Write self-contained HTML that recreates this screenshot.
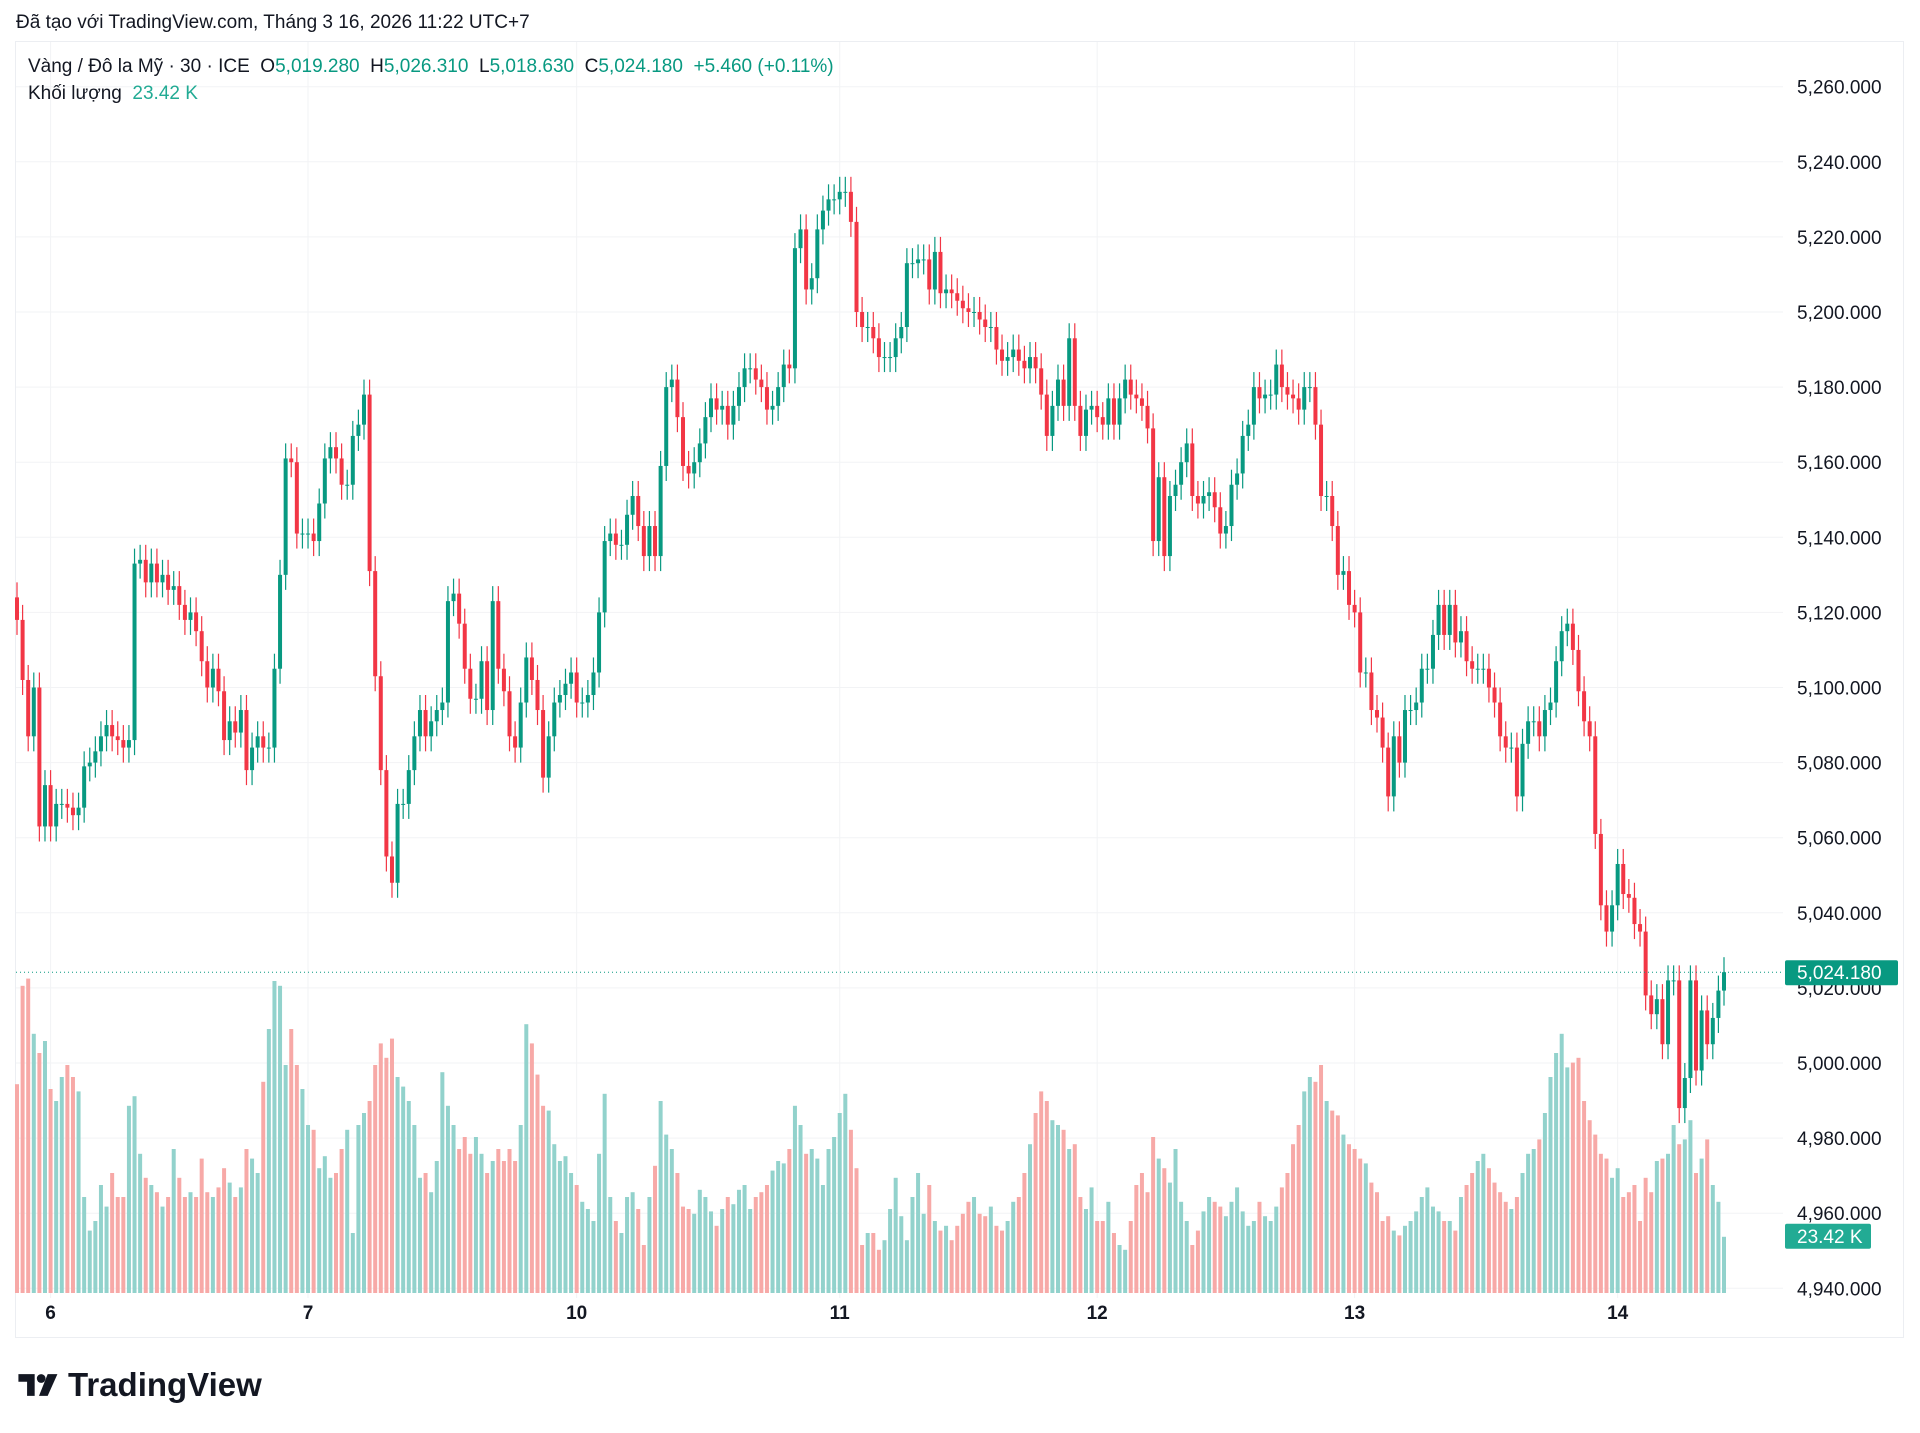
<!DOCTYPE html>
<html><head><meta charset="utf-8">
<style>
html,body{margin:0;padding:0;background:#fff;}
body{width:1920px;height:1433px;position:relative;overflow:hidden;font-family:"Liberation Sans","Noto Sans CJK SC",sans-serif;color:#131722;}
#hdr{position:absolute;left:16px;top:12px;font-size:19px;}
#frame{position:absolute;left:15px;top:41px;width:1889px;height:1297px;border:1px solid #eceef2;box-sizing:border-box;}
#legend{position:absolute;left:28px;top:53px;font-size:19px;line-height:27px;}
.g{color:#089981}
.tv{color:#22ab94}
#logo{position:absolute;left:18px;top:1366px;display:flex;align-items:center;font-weight:bold;font-size:33px;color:#131722;}
</style></head><body>
<div id="hdr">Đã tạo với TradingView.com, Tháng 3 16, 2026 11:22 UTC+7</div>
<div id="frame"></div>
<svg id="chart" width="1920" height="1433" style="position:absolute;left:0;top:0"></svg>
<div id="legend">
<div>Vàng / Đô la Mỹ · 30 · ICE&nbsp; O<span class="g">5,019.280</span>&nbsp; H<span class="g">5,026.310</span>&nbsp; L<span class="g">5,018.630</span>&nbsp; C<span class="g">5,024.180</span>&nbsp; <span class="g">+5.460 (+0.11%)</span></div>
<div>Khối lượng&nbsp; <span class="tv">23.42 K</span></div>
</div>
<div id="logo">
<svg width="42" height="26" viewBox="0 0 38 24" style="margin-right:8px"><path d="M0 2h15v20H8V9H0z" fill="#131722"/><circle cx="21" cy="6" r="4" fill="#131722"/><path d="M27 2h9l-9 20h-8z" fill="#131722"/></svg>
<span>TradingView</span></div>
<script>
const closes=[5118,5102,5087,5100,5063,5074,5063,5069,5069,5068,
5066,5068,5079,5080,5083,5087,5090,5087,5086,5084,
5086,5133,5134,5128,5133,5128,5130,5126,5127,5122,
5118,5120,5115,5107,5100,5105,5099,5086,5091,5088,
5094,5078,5084,5087,5084,5084,5105,5130,5161,5160,
5141,5141,5141,5139,5149,5161,5164,5161,5154,5154,
5167,5170,5178,5131,5103,5078,5055,5048,5069,5069,
5078,5087,5094,5087,5091,5094,5096,5123,5125,5117,
5105,5097,5097,5107,5094,5123,5105,5099,5087,5084,
5096,5108,5102,5094,5076,5087,5096,5098,5101,5104,
5096,5096,5098,5104,5120,5139,5141,5138,5138,5146,
5151,5143,5135,5143,5135,5159,5180,5182,5172,5159,
5157,5160,5165,5172,5177,5174,5175,5170,5175,5180,
5185,5185,5182,5180,5174,5175,5180,5186,5185,5217,
5222,5206,5209,5222,5227,5230,5230,5232,5232,5224,
5200,5196,5196,5193,5188,5188,5188,5193,5196,5213,
5213,5214,5214,5206,5216,5205,5206,5205,5203,5201,
5200,5200,5198,5196,5196,5190,5187,5188,5190,5187,
5185,5188,5185,5178,5167,5175,5182,5175,5193,5175,
5167,5174,5175,5172,5170,5177,5170,5177,5182,5178,
5177,5175,5169,5139,5156,5135,5151,5154,5160,5165,
5151,5149,5151,5152,5148,5141,5143,5154,5157,5167,
5170,5180,5177,5178,5178,5186,5180,5178,5177,5174,
5180,5180,5170,5151,5151,5143,5130,5131,5122,5120,
5104,5104,5094,5092,5084,5071,5087,5080,5094,5094,
5096,5105,5105,5114,5122,5114,5122,5112,5115,5107,
5105,5105,5105,5100,5096,5087,5084,5084,5071,5085,
5091,5091,5087,5094,5096,5107,5115,5117,5110,5099,
5091,5087,5061,5042,5035,5042,5053,5045,5044,5037,
5035,5018,5013,5017,5005,5022,5022,4988,4996,5022,
4998,5014,5005,5012,5019.28,5024.18];
const firstOpen=5124;
const volumes=[87,128,131,108,100,105,85,80,90,95,
90,84,40,26,30,45,36,50,40,40,
78,82,58,48,45,42,36,40,60,48,
40,42,40,56,42,40,44,52,46,40,
44,60,56,50,88,110,130,128,95,110,
95,85,70,68,52,57,48,50,60,68,
25,70,75,80,95,104,98,106,90,86,
80,70,48,50,42,55,92,78,70,60,
65,58,65,58,50,55,60,55,60,55,
70,112,104,91,78,76,62,55,57,50,
45,38,35,30,58,83,40,30,25,40,
42,35,20,40,53,80,66,60,50,36,
35,33,43,40,34,28,35,40,37,43,
45,35,40,42,45,51,55,54,60,78,
70,58,60,56,45,60,65,75,83,68,
52,20,25,25,18,22,35,48,32,22,
40,50,33,45,30,26,28,22,28,33,
38,40,33,32,36,28,26,30,38,40,
50,62,75,84,80,72,70,68,60,62,
40,35,44,30,30,38,25,20,18,30,
45,50,42,65,56,52,46,60,38,30,
20,26,34,40,38,36,32,38,44,34,
28,30,38,32,30,36,44,50,62,70,
84,90,88,95,80,76,74,66,62,60,
56,54,46,42,30,32,26,24,28,30,
34,40,44,36,34,30,30,26,40,45,
50,55,58,52,46,42,38,35,40,50,
58,60,64,75,90,100,108,94,96,98,
80,72,66,58,56,48,52,40,42,45,
30,48,42,55,56,58,70,62,64,72,
50,56,64,45,38,23.42];
const priceTicks=[5260,5240,5220,5200,5180,5160,5140,5120,5100,5080,5060,5040,5020,5000,4980,4960,4940];
const dayLabels=["6","7","10","11","12","13","14"];
const dayBarIndex=[6,52,100,147,193,239,286];
const lastPrice=5024.18;
const lastVolumeLabel="23.42 K";

const NS="http://www.w3.org/2000/svg";
const svg=document.getElementById('chart');
const n=closes.length;
const x0=17,x1=1724;
function xs(i){return x0+(x1-x0)*i/(n-1);}
function ys(p){return 86.7+(5260-p)*3.755;}
function yv(v){return 1293-v*2.4;}
function mk(tag,attrs){const e=document.createElementNS(NS,tag);for(const k in attrs)e.setAttribute(k,attrs[k]);svg.appendChild(e);return e;}
const fmt=v=>v.toLocaleString('en-US',{minimumFractionDigits:3,maximumFractionDigits:3});

priceTicks.forEach(p=>{
  const l=mk('line',{x1:16,x2:1783,y1:ys(p),y2:ys(p),stroke:'#f2f3f5','stroke-width':1});
  
  
  const t=mk('text',{x:1797,y:ys(p)+7,'font-size':19,fill:'#131722','font-family':'Liberation Sans, sans-serif'});
  t.textContent=fmt(p);
  
  
});
dayBarIndex.forEach((bi,k)=>{
  const x=xs(bi);
  const l=mk('line',{x1:x,x2:x,y1:42,y2:1298,stroke:'#f2f3f5','stroke-width':1});
  
  
  const t=mk('text',{x:x,y:1319,'font-size':19,'font-weight':'bold',fill:'#131722','text-anchor':'middle','font-family':'Liberation Sans, sans-serif'});
  t.textContent=dayLabels[k];
  
  
});

for(let i=0;i<n;i++){
  const o=i===0?firstOpen:closes[i-1],c=closes[i];
  const up=c>=o;
  const v=volumes[i]||0;
  const r=mk('rect',{x:xs(i)-2,y:yv(v),width:4,height:1293-yv(v),fill:up?'#92d2cc':'#f7a9a7'});
  
  
}
for(let i=0;i<n;i++){
  const o=i===0?firstOpen:closes[i-1],c=closes[i];
  const up=c>=o;
  const col=up?'#089981':'#f23645';
  const hi=Math.max(o,c)+4,lo=Math.min(o,c)-4;
  const w=mk('line',{x1:xs(i),x2:xs(i),y1:ys(hi),y2:ys(lo),stroke:col,'stroke-width':1.2});
  
  
  const top=ys(Math.max(o,c)),bot=ys(Math.min(o,c));
  const b=mk('rect',{x:xs(i)-2,y:top,width:4,height:Math.max(1,bot-top),fill:col});
  
  
}
const yl=ys(lastPrice);
const dl=mk('line',{x1:16,x2:1783,y1:yl,y2:yl,stroke:'#089981','stroke-width':1,'stroke-dasharray':'1 3'});


const lb=mk('rect',{x:1785,y:yl-12,width:113,height:25,rx:2,fill:'#089981'});


const lt=mk('text',{x:1797,y:yl+7,'font-size':19,fill:'#fff','font-family':'Liberation Sans, sans-serif'});
lt.textContent=fmt(lastPrice);


const vy=yv(volumes[volumes.length-1]);
const vb=mk('rect',{x:1785,y:vy-13,width:86,height:25,rx:2,fill:'#22ab94'});


const vt=mk('text',{x:1797,y:vy+6,'font-size':19,fill:'#fff','font-family':'Liberation Sans, sans-serif'});
vt.textContent=lastVolumeLabel;


</script>
</body></html>
